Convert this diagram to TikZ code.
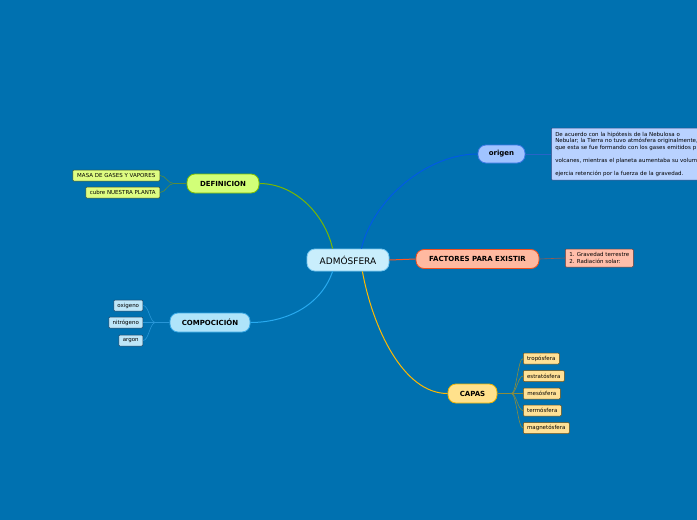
\documentclass[tikz,border=0pt]{standalone}
\usepackage{fontspec}
\setmainfont{DejaVu Sans}
\usepackage{xcolor}
\usepackage{tikz}
\usetikzlibrary{positioning,calc}

\definecolor{bg}{RGB}{0,113,176}
\definecolor{admfill}{RGB}{201,238,252}
\definecolor{admline}{RGB}{120,200,240}
\definecolor{deffill}{RGB}{210,255,120}
\definecolor{defline}{RGB}{128,192,0}
\definecolor{defleaf}{RGB}{222,252,130}
\definecolor{defleafline}{RGB}{60,80,40}
\definecolor{compfill}{RGB}{175,228,250}
\definecolor{compline}{RGB}{60,170,230}
\definecolor{compleaf}{RGB}{190,230,248}
\definecolor{compleafline}{RGB}{30,60,90}
\definecolor{orifill}{RGB}{160,195,255}
\definecolor{oriline}{RGB}{60,120,230}
\definecolor{orileaf}{RGB}{185,210,255}
\definecolor{orileafline}{RGB}{40,70,130}
\definecolor{facfill}{RGB}{255,185,160}
\definecolor{facline}{RGB}{240,80,30}
\definecolor{facleaf}{RGB}{255,190,170}
\definecolor{facleafline}{RGB}{120,60,50}
\definecolor{capfill}{RGB}{255,225,140}
\definecolor{capline}{RGB}{240,180,0}
\definecolor{capleaf}{RGB}{255,225,150}
\definecolor{capleafline}{RGB}{110,80,20}
\definecolor{defcol}{RGB}{122,184,0}
\definecolor{oricol}{RGB}{0,90,230}
\definecolor{faccol}{RGB}{255,85,30}
\definecolor{capcol}{RGB}{255,185,0}
\definecolor{compcol}{RGB}{40,170,240}
\definecolor{deftwig}{RGB}{90,140,60}
\definecolor{comptwig}{RGB}{40,150,215}
\definecolor{oritwig}{RGB}{40,100,200}
\definecolor{factwig}{RGB}{150,90,80}
\definecolor{captwig}{RGB}{140,140,60}

\begin{document}
\begin{tikzpicture}[x=1pt, y=-1pt, every node/.style={draw, align=center, inner sep=1pt},
		main/.style={rounded corners=8pt, line width=0.8pt, minimum height=19pt, font=\fontsize{7}{8}\selectfont\bfseries},
		leaf/.style={rounded corners=1pt, line width=0.5pt, minimum height=11pt, font=\fontsize{5.5}{6.5}\selectfont},
		branch/.style={line width=1pt},
		twig/.style={line width=0.6pt}]
			
			\useasboundingbox (0,0) rectangle (697,520);
			\fill[bg] (0,0) rectangle (697,520);
			\clip (0,0) rectangle (697,520);
			
			% Centre
			\node[main, fill=admfill, draw=admline, minimum width=82pt, minimum height=22pt, font=\fontsize{9}{10}\selectfont] (adm) at (348,260) {ADMÓSFERA};
			
			% Definicion
			\node[main, fill=deffill, draw=defline, minimum width=72pt] (def) at (223,183.5) {DEFINICION};
			\node[leaf, fill=defleaf, draw=defleafline, anchor=east, minimum width=87pt] (masa) at (160,175.5) {MASA DE GASES Y VAPORES};
			\node[leaf, fill=defleaf, draw=defleafline, anchor=east, minimum width=74pt] (cubre) at (160,192.5) {cubre NUESTRA PLANTA};
			
			% Composicion
			\node[main, fill=compfill, draw=compline, minimum width=80pt] (comp) at (210,322.5) {COMPOCICIÓN};
			\node[leaf, fill=compleaf, draw=compleafline, anchor=east, minimum width=29pt] (oxi) at (143,305.5) {oxigeno};
			\node[leaf, fill=compleaf, draw=compleafline, anchor=east, minimum width=34pt] (nitro) at (143,322.5) {nitrógeno};
			\node[leaf, fill=compleaf, draw=compleafline, anchor=east, minimum width=24pt] (argon) at (143,340.5) {argon};
			
			% Origen
			\node[main, fill=orifill, draw=oriline, minimum width=47pt, minimum height=18pt] (ori) at (501.5,154) {origen};
			\node[leaf, fill=orileaf, draw=orileafline, anchor=west, align=left, minimum width=180pt, minimum height=52pt, inner xsep=4pt, font=\fontsize{5.5}{6.5}\selectfont, text width=172pt] (hipo) at (551,154) {De acuerdo con la hipótesis de la Nebulosa o\\Nebular; la Tierra no tuvo atmósfera originalmente,\\que esta se fue formando con los gases emitidos p\\[6.5pt]volcanes, mientras el planeta aumentaba su volum\\[6.5pt]ejercia retención por la fuerza de la gravedad.};
			
			% Factores
			\node[main, fill=facfill, draw=facline, minimum width=123pt] (fac) at (477.5,259) {FACTORES PARA EXISTIR};
			\node[leaf, fill=facleaf, draw=facleafline, anchor=west, align=left, minimum width=68pt, minimum height=18pt] (grav) at (565,258) {1. Gravedad terrestre\\2. Radiación solar:};
			
			% Capas
			\node[main, fill=capfill, draw=capline, minimum width=49pt] (capas) at (472.5,393.5) {CAPAS};
			\node[leaf, fill=capleaf, draw=capleafline, anchor=west, minimum width=36pt] (tropo) at (523,358.5) {tropósfera};
			\node[leaf, fill=capleaf, draw=capleafline, anchor=west, minimum width=41pt] (estrato) at (523,376) {estratósfera};
			\node[leaf, fill=capleaf, draw=capleafline, anchor=west, minimum width=37pt] (meso) at (523,393.5) {mesósfera};
			\node[leaf, fill=capleaf, draw=capleafline, anchor=west, minimum width=38pt] (termo) at (523,410.5) {termósfera};
			\node[leaf, fill=capleaf, draw=capleafline, anchor=west, minimum width=46pt] (magneto) at (523,428) {magnetósfera};
			
			% Connections
			\draw[branch, defcol] ([xshift=26pt]adm.north west) .. controls +(-8,-35) and +(35,0) .. (def.east);
			\draw[branch, oricol] ([xshift=-28pt]adm.north east) .. controls +(12,-50) and +(-50,0) .. (ori.west);
			\draw[branch, faccol] (adm.east) -- (fac.west);
			\draw[branch, capcol] ([xshift=-27pt]adm.south east) .. controls +(10,55) and +(-45,0) .. (capas.west);
			\draw[branch, compcol] ([xshift=26pt]adm.south west) .. controls +(-12,35) and +(35,0) .. (comp.east);
			
			\draw[twig, deftwig] (def.west) -- ++(-13,0) coordinate (defj) .. controls +(-6,0) and +(6,0) .. (masa.east);
			\draw[twig, deftwig] (defj) .. controls +(-6,0) and +(6,0) .. (cubre.east);
			
			\draw[twig, comptwig] (comp.west) -- ++(-14,0) coordinate (compj) .. controls +(-6,0) and +(6,0) .. (oxi.east);
			\draw[twig, comptwig] (compj) -- (nitro.east);
			\draw[twig, comptwig] (compj) .. controls +(-6,0) and +(6,0) .. (argon.east);
			
			\draw[twig, oritwig] (ori.east) -- (hipo.west);
			\draw[twig, factwig] (fac.east) -- (grav.west);
			
			\draw[twig, captwig] (capas.east) -- ++(14,0) coordinate (capj) .. controls +(5,0) and +(-5,0) .. (tropo.west);
			\draw[twig, captwig] (capj) .. controls +(5,0) and +(-5,0) .. (estrato.west);
			\draw[twig, captwig] (capj) -- (meso.west);
			\draw[twig, captwig] (capj) .. controls +(5,0) and +(-5,0) .. (termo.west);
			\draw[twig, captwig] (capj) .. controls +(5,0) and +(-5,0) .. (magneto.west);
			
		\end{tikzpicture}
\end{document}
